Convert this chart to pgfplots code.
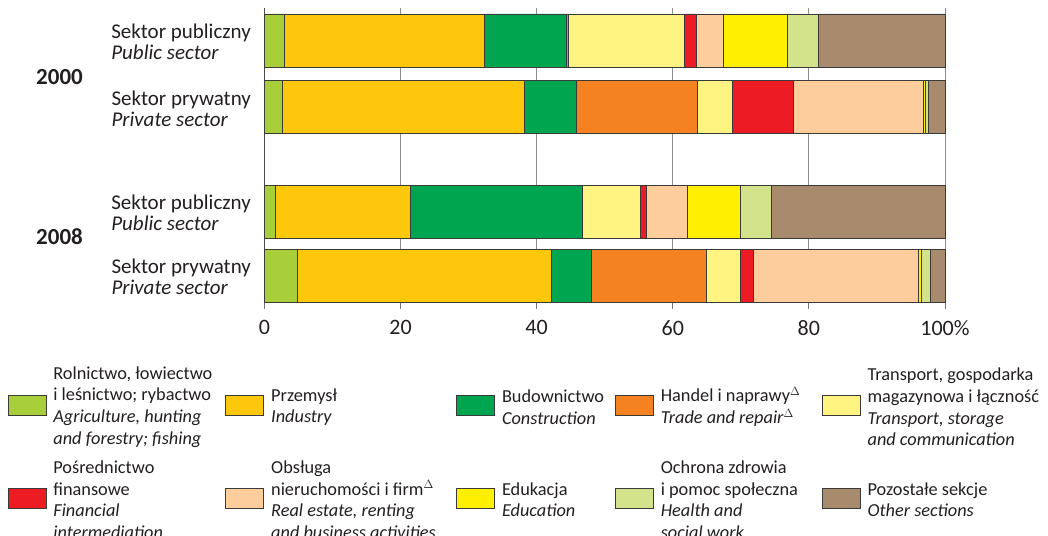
\documentclass[border=0pt]{standalone}
\usepackage{pgfplots}
\pgfplotsset{compat=1.18}
\usepackage{fontspec}
\setmainfont{Carlito}
\definecolor{cAgri}{HTML}{A8CF3A}
\definecolor{cInd}{HTML}{FDC80C}
\definecolor{cCons}{HTML}{00A550}
\definecolor{cTrade}{HTML}{F58220}
\definecolor{cTrans}{HTML}{FFF382}
\definecolor{cFin}{HTML}{ED1C24}
\definecolor{cReal}{HTML}{FDCD9C}
\definecolor{cEdu}{HTML}{FFF000}
\definecolor{cHealth}{HTML}{D3E38C}
\definecolor{cOther}{HTML}{A88B6C}
\definecolor{bordc}{HTML}{3A3A3A}
\definecolor{textc}{HTML}{231F20}
\newcommand{\ylab}[2]{\begin{tabular}{@{}l@{}}#1\\\textit{#2}\end{tabular}}
\newcommand{\lent}[2]{\hspace*{7pt}\parbox[c][82pt][c]{#1}{#2}}
\begin{document}
\begin{tikzpicture}
\path[use as bounding box] (-264.4pt,-233pt) rectangle (783.6pt,302pt);
\begin{axis}[
  scale only axis, width=680.6pt, height=294pt,
  xbar stacked, bar width=53pt,
  xmin=0, xmax=100, ymin=-302, ymax=-8,
  clip=false,
  axis x line*=bottom, axis y line*=left,
  axis line style={draw=black!70, line width=0.8pt},
  xtick={0,20,40,60,80,100},
  xticklabels={0,20,40,60,80,100\%},
  tick align=outside, major tick length=7pt,
  x tick style={draw=black!55, line width=0.8pt},
  ytick={-275.5,-211.5,-107,-40.5},
  yticklabels={{\ylab{Sektor prywatny}{Private sector}},{\ylab{Sektor publiczny}{Public sector}},{\ylab{Sektor prywatny}{Private sector}},{\ylab{Sektor publiczny}{Public sector}}},
  y tick style={draw=none},
  yticklabel style={font=\fontsize{21}{21.3}\selectfont, inner sep=0pt, text=textc, xshift=-6.3pt, yshift=-4.5pt},
  xticklabel style={font=\fontsize{22}{22}\selectfont, text=textc, yshift=-8pt, /pgf/number format/assume math mode=true},
  xmajorgrids, grid style={draw=black!45, line width=0.8pt},
  every axis plot/.append style={draw=bordc, line width=0.8pt},
  legend columns=5,
  legend cell align=left,
  legend style={at={(-0.3773,-0.2177)}, anchor=north west, draw=none, fill=none, inner sep=0pt, outer sep=0pt, column sep=0pt, row sep=43pt, font=\fontsize{18.3}{21.7}\selectfont, text=textc, nodes={inner sep=0pt, anchor=west}},
  legend image code/.code={\draw[#1, line width=0.8pt] (0pt,-26pt) rectangle (38pt,-6pt);},
]
\addplot[fill=cAgri] coordinates {(2.9,-40.5) (2.6,-107) (1.65,-211.5) (4.8,-275.5)};
\addlegendentry{\lent{172pt}{Rolnictwo, łowiectwo\\i leśnictwo; rybactwo\\\textit{Agriculture, hunting\\and forestry; fishing}}}
\addplot[fill=cInd] coordinates {(29.4,-40.5) (35.6,-107) (19.85,-211.5) (37.3,-275.5)};
\addlegendentry{\lent{185pt}{Przemysł\\\textit{Industry}}}
\addplot[fill=cCons] coordinates {(12.0,-40.5) (7.6,-107) (25.2,-211.5) (5.9,-275.5)};
\addlegendentry{\lent{113pt}{Budownictwo\\\textit{Construction}}}
\addplot[fill=cTrade] coordinates {(0.4,-40.5) (17.8,-107) (0,-211.5) (17.0,-275.5)};
\addlegendentry{\lent{161pt}{Handel i naprawy$^\Delta$\\\textit{Trade and repair}$^\Delta$}}
\addplot[fill=cTrans] coordinates {(17.0,-40.5) (5.2,-107) (8.5,-211.5) (4.9,-275.5)};
\addlegendentry{\lent{185pt}{Transport, gospodarka\\magazynowa i łączność\\\textit{Transport, storage\\and communication}}}
\addplot[fill=cFin] coordinates {(1.8,-40.5) (8.9,-107) (0.9,-211.5) (2.0,-275.5)};
\addlegendentry{\lent{172pt}{Pośrednictwo\\finansowe\\\textit{Financial\\intermediation}}}
\addplot[fill=cReal] coordinates {(4.0,-40.5) (19.1,-107) (6.1,-211.5) (24.2,-275.5)};
\addlegendentry{\lent{185pt}{Obsługa\\nieruchomości i firm$^\Delta$\\\textit{Real estate, renting\\and business activities}}}
\addplot[fill=cEdu] coordinates {(9.4,-40.5) (0.35,-107) (7.8,-211.5) (0.5,-275.5)};
\addlegendentry{\lent{113pt}{Edukacja\\\textit{Education}}}
\addplot[fill=cHealth] coordinates {(4.5,-40.5) (0.35,-107) (4.5,-211.5) (1.3,-275.5)};
\addlegendentry{\lent{161pt}{Ochrona zdrowia\\i pomoc społeczna\\\textit{Health and\\social work}}}
\addplot[fill=cOther] coordinates {(18.6,-40.5) (2.5,-107) (25.5,-211.5) (2.1,-275.5)};
\addlegendentry{\lent{185pt}{Pozostałe sekcje\\\textit{Other sections}}}
\node[anchor=west, inner sep=0pt, text=textc, font=\bfseries\fontsize{23}{23}\selectfont] at (axis cs:-33.56,-76.7) {2000};
\node[anchor=west, inner sep=0pt, text=textc, font=\bfseries\fontsize{23}{23}\selectfont] at (axis cs:-33.56,-236.7) {2008};
\end{axis}
\end{tikzpicture}
\end{document}
